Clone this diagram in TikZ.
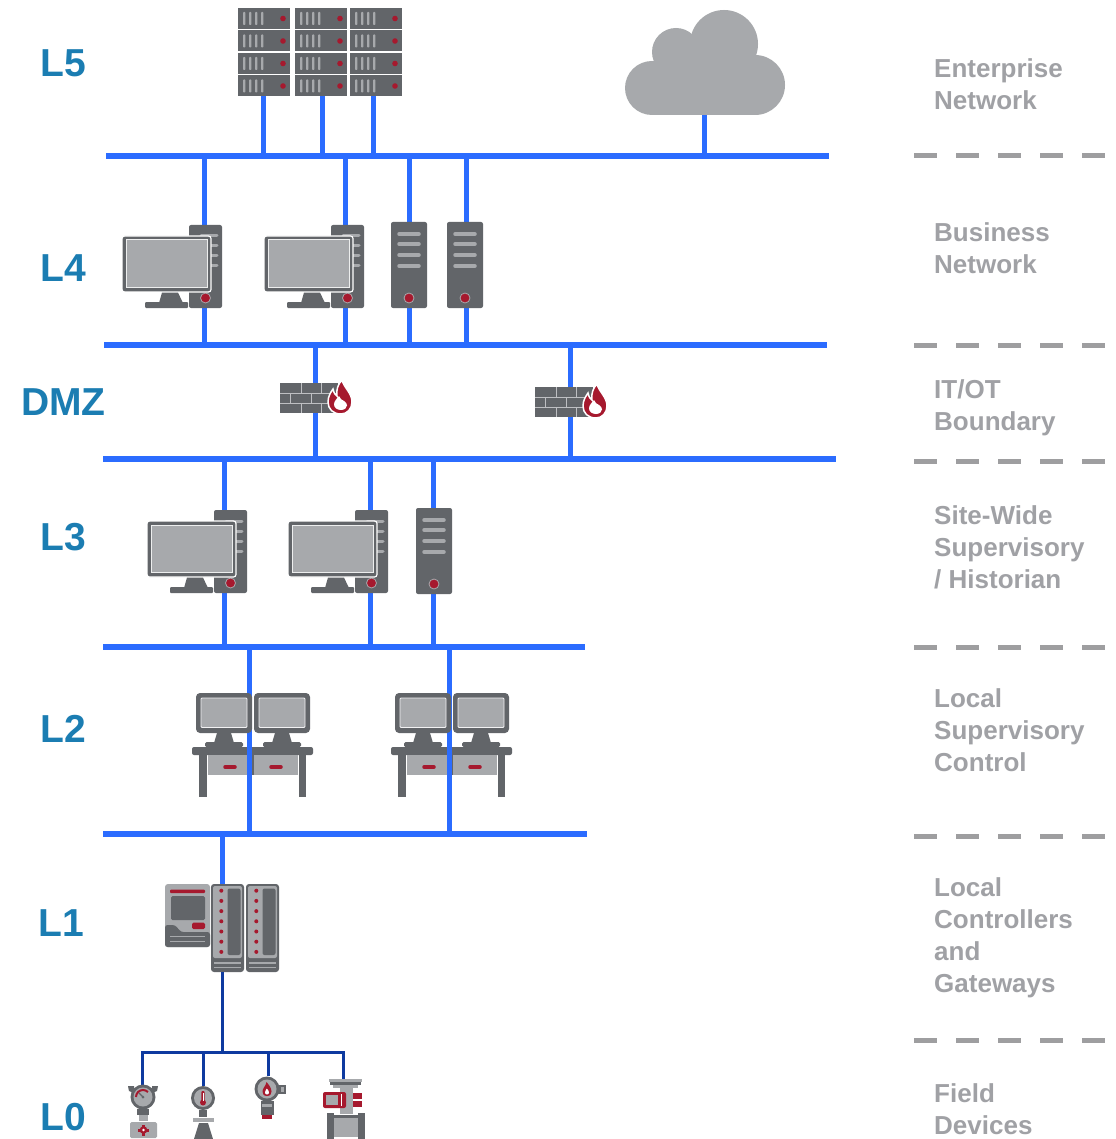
\documentclass[tikz,border=0pt]{standalone}
\usepackage{fontspec}
\setmainfont{Liberation Sans}
\definecolor{devdark}{RGB}{98,101,105}
\definecolor{devlight}{RGB}{167,169,172}
\definecolor{devred}{RGB}{166,25,46}
\definecolor{netblue}{RGB}{43,108,255}
\definecolor{fieldblue}{RGB}{14,58,160}
\definecolor{levelblue}{RGB}{27,125,178}
\definecolor{zonegray}{RGB}{160,161,165}
\definecolor{sepgray}{RGB}{158,158,160}
\definecolor{brickgap}{RGB}{190,191,194}
\tikzset{
  bus/.style={draw=netblue, line width=5.5pt},
  drop/.style={draw=netblue, line width=5pt},
  fieldline/.style={draw=fieldblue, line width=3pt},
  zonesep/.style={draw=sepgray, line width=5pt, dash pattern=on 23pt off 19pt},
  levellabel/.style={font=\bfseries\fontsize{39}{39}\selectfont, text=levelblue, anchor=base, inner sep=0pt},
  zonelabel/.style={font=\bfseries\fontsize{26}{32}\selectfont, text=zonegray, anchor=base west, inner sep=0pt},
  % one rack-mounted server unit
  rackunit/.pic={
    \fill[devdark] (0,0) rectangle (52,21);
    \foreach \u in {5,11,17,23}{\fill[devlight, rounded corners=0.8pt] (\u,4) rectangle ++(2.4,13);}
    \fill[devred] (45,10.5) circle (2.8);
  },
  % desktop computer: tower with monitor in front
  workstation/.pic={
    \fill[devdark, rounded corners=2pt] (0,0) rectangle (33,83);
    \foreach \v in {11,21,31,41}{\draw[devlight, line width=3pt, line cap=round] (12,\v) -- (28,\v);}
    \filldraw[fill=devred, draw=devlight, line width=0.8pt] (16.5,73) circle (5);
    \filldraw[fill=devdark, draw=white, line width=1.2pt, rounded corners=2.5pt] (-67,11) rectangle (22,67);
    \filldraw[fill=devlight, draw=white!80!devlight, line width=1pt] (-63,15) rectangle (18,62.5);
    \fill[devdark] (-27,67.6) -- (-11,67.6) -- (-6,78) -- (-30,78) -- cycle;
    \fill[devdark, rounded corners=1pt] (-44,77) rectangle (-1,83);
  },
  % standalone server tower
  servertower/.pic={
    \fill[devdark, rounded corners=2pt] (0,0) rectangle (36,86);
    \foreach \v in {12,22,33,44}{\draw[devlight, line width=3.5pt, line cap=round] (8,\v) -- (28,\v);}
    \filldraw[fill=devred, draw=devlight, line width=0.8pt] (18,76) circle (5);
  },
  % brick wall with flame
  firewall/.pic={
    \fill[devdark] (0,0) rectangle (58,30);
    \draw[brickgap, line width=1pt] (0,10) -- (58,10) (0,20) -- (58,20)
      (21,0) -- (21,10) (41,0) -- (41,10)
      (10,10) -- (10,20) (31,10) -- (31,20) (51,10) -- (51,20)
      (21,20) -- (21,30) (41,20) -- (41,30);
    \filldraw[fill=devred, draw=white, line width=1.5pt]
      (61,31) .. controls (53,31) and (48,26) .. (48,19)
      .. controls (48,13) and (51,9) .. (53,6)
      .. controls (54,10) and (55,12) .. (57,13)
      .. controls (56,7) and (58,1) .. (62,-3)
      .. controls (64,5) and (72,10) .. (72,19)
      .. controls (72,26) and (67,31) .. (61,31) -- cycle;
    \fill[white] (61,27) .. controls (57,27) and (54,24.5) .. (54,21.5)
      .. controls (54,18) and (57,15.5) .. (59,13)
      .. controls (60,16) and (62,17) .. (64,18)
      .. controls (66,19.5) and (67,21) .. (67,22.5)
      .. controls (67,25) and (64.5,27) .. (61,27) -- cycle;
  },
  % operator desk: table and drawers
  deskbase/.pic={
    \fill[devdark, rounded corners=2pt] (0,54) rectangle (121,62);
    \fill[devdark] (7,61) rectangle (15,104);
    \fill[devdark] (107,61) rectangle (114,104);
    \fill[devlight] (16,62) rectangle (106,82);
    \fill[devdark] (59.5,62) rectangle (62,82);
    \draw[devred, line width=3.5pt, line cap=round] (33,74) -- (43,74) (79,74) -- (89,74);
  },
  % operator desk: two monitors
  deskscreens/.pic={
    \foreach \a in {4,62}{
      \fill[devdark, rounded corners=4pt] (\a,0) rectangle (\a+56,40);
      \filldraw[fill=devlight, draw=white!85!devlight, line width=0.8pt, rounded corners=1pt] (\a+5,5) rectangle (\a+51,34.5);
      \fill[devdark] (\a+21,40) -- (\a+35,40) -- (\a+38,50) -- (\a+18,50) -- cycle;
      \fill[devdark, rounded corners=1.5pt] (\a+9,49) rectangle (\a+47,54);
    }
  },
  % controller with two I/O modules
  controller/.pic={
    \fill[devlight, rounded corners=3pt] (0,0) rectangle (45,63);
    \fill[devred, rounded corners=1pt] (5,5.5) rectangle (40,9);
    \fill[devdark, rounded corners=1.5pt] (6,12) rectangle (40,36);
    \fill[devred, rounded corners=1.5pt] (27,38.5) rectangle (40,45);
    \fill[devdark, rounded corners=2.5pt] (0,41) -- (10,41) -- (16,48) -- (45,48) -- (45,63) -- (0,63) -- cycle;
    \draw[devlight, line width=1.5pt] (5,52.5) -- (40,52.5) (5,57.5) -- (40,57.5);
    \foreach \m in {46,81}{
      \fill[devdark, rounded corners=3pt] (\m,0) rectangle (\m+33,88);
      \fill[devlight, rounded corners=2pt] (\m+2,2) rectangle (\m+31,74);
      \fill[devdark, rounded corners=2pt] (\m+16.5,4.5) rectangle (\m+29.5,71);
      \foreach \k in {0,...,6}{\fill[devred] (\m+10.3,6.7+10.2*\k) circle (2);}
      \draw[devlight, line width=1.2pt] (\m+3,79) -- (\m+30,79) (\m+3,83.5) -- (\m+30,83.5);
    }
  },
  % pressure gauge on a valve body
  gaugedev/.pic={
    \fill[devdark] (-14,1) -- (-8,1) -- (-8,8) -- (-13,6) -- cycle;
    \fill[devdark] (16,1) -- (10,1) -- (10,8) -- (15,6) -- cycle;
    \fill[devdark] (1,12) circle (12.5);
    \fill[devlight] (1,12) circle (9.5);
    \draw[devred, line width=2pt] (-6,12) arc[start angle=180, end angle=315, radius=7];
    \draw[devdark, line width=1.3pt, line cap=round] (1,12) -- (-3,8);
    \fill[devdark] (1,12) circle (1.5);
    \fill[devdark] (-5,24) rectangle (7,29.5);
    \fill[devlight] (-3.5,29.5) rectangle (5.5,36);
    \fill[devlight, rounded corners=1.5pt] (-12,37) rectangle (15,53);
    \fill[devred] (-4,43.5) rectangle (7,46.5);
    \fill[devred] (0,39.5) rectangle (3,50.5);
    \fill[devred] (1.5,45) circle (3.8);
    \fill[white] (1.5,45) circle (1.3);
  },
  % temperature transmitter
  thermodev/.pic={
    \fill[devdark] (0,12) circle (12);
    \fill[devlight] (0,12) circle (9);
    \fill[devred, rounded corners=1pt] (-1.6,5) rectangle (1.6,15);
    \fill[devred] (0,16.5) circle (3);
    \draw[white, line width=0.6pt] (0,7) -- (0,15);
    \fill[devdark] (-4,23.5) rectangle (4,31);
    \fill[devlight] (-10,32) rectangle (11,36);
    \fill[devdark] (-4,37) -- (5,37) -- (10,53) -- (-9,53) -- cycle;
  },
  % flame detector
  flamedev/.pic={
    \fill[devdark] (10,8.5) rectangle (18,18);
    \fill[devlight] (12.5,11) rectangle (16,15.5);
    \fill[devdark] (-1,13) circle (12.5);
    \fill[devlight] (-1,13) circle (9.5);
    \fill[devred] (-1,20) .. controls (-4.5,20) and (-5.5,17.5) .. (-5.5,15.5)
      .. controls (-5.5,12) and (-2,10) .. (-1.5,6)
      .. controls (1,9) and (3.5,12) .. (3.5,15.5)
      .. controls (3.5,17.5) and (2.5,20) .. (-1,20) -- cycle;
    \fill[white] (-1,18.5) .. controls (-2.5,18.5) and (-3,17.3) .. (-3,16.3)
      .. controls (-3,15) and (-1.8,14) .. (-1.2,12.5)
      .. controls (0,14) and (1,15) .. (1,16.3)
      .. controls (1,17.3) and (0.5,18.5) .. (-1,18.5) -- cycle;
    \fill[devdark] (-7.5,25) rectangle (5.5,39);
    \fill[devlight] (-6,28) rectangle (4,30.5);
    \fill[devred] (-6,39) rectangle (4,43);
  },
  % control valve with actuator
  valvedev/.pic={
    \fill[devlight] (-14,0) rectangle (19,3);
    \fill[devdark] (-13,3) rectangle (18,6);
    \fill[devlight] (-10,6) rectangle (15,9);
    \fill[devlight] (-3,9) rectangle (10,35);
    \fill[devred, rounded corners=2pt] (-20,13) rectangle (3,29);
    \fill[devlight] (-17,16) rectangle (-5,26);
    \draw[white, line width=0.8pt] (-1.5,15) -- (-1.5,27);
    \fill[devred] (10,14) rectangle (19,20);
    \fill[devred] (10,22) rectangle (19,28);
    \fill[devlight] (-9,36) rectangle (15,58);
    \fill[devdark] (-9,36) rectangle (15,39);
    \fill[devdark] (-16,34) rectangle (-9,60);
    \fill[devdark] (15,34) rectangle (22,60);
  }
}
\begin{document}
\begin{tikzpicture}[x=1pt, y=-1pt, line join=miter]
\useasboundingbox (0,0) rectangle (1115,1139);
\fill[white] (0,0) rectangle (1115,1139);

% ---- network backbones ----
\coordinate (b5w) at (106,156); \coordinate (b5e) at (829,156);
\coordinate (b4w) at (104,345); \coordinate (b4e) at (827,345);
\coordinate (bdw) at (103,459); \coordinate (bde) at (836,459);
\coordinate (b3w) at (103,647); \coordinate (b3e) at (585,647);
\coordinate (b2w) at (103,834); \coordinate (b2e) at (587,834);

% ---- device attachment points ----
\coordinate (rackA) at (263,96); \coordinate (rackB) at (322,96); \coordinate (rackC) at (373,96);
\coordinate (cloud) at (704,114);
\coordinate (ws4a) at (204,266); \coordinate (ws4b) at (345,266);
\coordinate (srv4a) at (409,265); \coordinate (srv4b) at (466,265);
\coordinate (fwA) at (315,398); \coordinate (fwB) at (570,402);
\coordinate (ws3a) at (224,551); \coordinate (ws3b) at (370,551); \coordinate (srv3) at (433,551);
\coordinate (deskA) at (249,740); \coordinate (deskB) at (449,740);
\coordinate (ctlTop) at (222,884); \coordinate (ctlBot) at (222,972);
\coordinate (hub) at (222,1052);
\coordinate (fd1) at (142,1085); \coordinate (fd2) at (203,1086);
\coordinate (fd3) at (268,1076); \coordinate (fd4) at (343,1079);

\foreach \w/\e in {b5w/b5e,b4w/b4e,bdw/bde,b3w/b3e,b2w/b2e}{\draw[bus] (\w) -- (\e);}

% ---- drops between levels ----
\foreach \n in {rackA,rackB,rackC,cloud}{\draw[drop] (\n) -- (\n |- b5w);}
\foreach \n in {ws4a,ws4b,srv4a,srv4b}{\draw[drop] (\n |- b5w) -- (\n |- b4w);}
\foreach \n in {fwA,fwB}{\draw[drop] (\n |- b4w) -- (\n |- bdw);}
\foreach \n in {ws3a,ws3b,srv3}{\draw[drop] (\n |- bdw) -- (\n |- b3w);}
\draw[drop] (ctlTop |- b2w) -- (ctlBot);

% ---- L5: rack servers and cloud ----
\foreach \cx in {238,295,350}{
  \foreach \ry in {8,30.5,53,75.5}{\pic at (\cx,\ry) {rackunit};}
}
\foreach \c/\r in {{652,88}/27,{676,52}/24,{724,44}/34,{755,85}/30}{\fill[devlight] (\c) circle (\r);}
\fill[devlight] (652,62) rectangle (755,115);

% ---- L4 ----
\pic at (189,225) {workstation};
\pic at (331,225) {workstation};
\pic at (391,222) {servertower};
\pic at (447,222) {servertower};

% ---- DMZ firewalls ----
\pic at (280,383) {firewall};
\pic at (535,387) {firewall};

% ---- L3 ----
\pic at (214,510) {workstation};
\pic at (355,510) {workstation};
\pic at (416,508) {servertower};

% ---- L2 operator desks ----
\pic at (192,693) {deskbase};
\pic at (391,693) {deskbase};
\foreach \n in {deskA,deskB}{\draw[drop] (\n |- b3w) -- (\n |- b2w);}
\pic at (192,693) {deskscreens};
\pic at (391,693) {deskscreens};

% ---- L1 controller ----
\pic at (165,884) {controller};

% ---- L0 field devices ----
\draw[fieldline] (ctlBot) -- (hub);
\draw[fieldline] (fd1) |- (hub) -| (fd4);
\draw[fieldline] (fd2) -- (fd2 |- hub);
\draw[fieldline] (fd3) -- (fd3 |- hub);
\pic at (fd1) {gaugedev};
\pic at (fd2) {thermodev};
\pic at (fd3) {flamedev};
\pic at (fd4) {valvedev};

% ---- level names ----
\node[levellabel] (lvl5) at (63.5,76.5) {L5};
\node[levellabel] (lvl4) at (63.5,281.5) {L4};
\node[levellabel] (lvldmz) at (63.5,415.7) {DMZ};
\node[levellabel] (lvl3) at (63.5,550) {L3};
\node[levellabel] (lvl2) at (63.5,742.5) {L2};
\node[levellabel] (lvl1) at (61.5,936.5) {L1};
\node[levellabel] (lvl0) at (63.5,1130.5) {L0};

% ---- zone separators ----
\foreach \y [count=\i] in {156,345,461,647,836,1040}{
  \coordinate (sep\i w) at (914,\y); \coordinate (sep\i e) at (1105,\y);
  \draw[zonesep] (sep\i w) -- (sep\i e);
}

% ---- zone descriptions ----
\node[zonelabel] (z5a) at (934,77.3) {Enterprise};
\node[zonelabel] (z5b) at (934,109.3) {Network};
\node[zonelabel] (z4a) at (934,242) {Business};
\node[zonelabel] (z4b) at (934,274) {Network};
\node[zonelabel] (zda) at (934,398) {IT/OT};
\node[zonelabel] (zdb) at (934,430) {Boundary};
\node[zonelabel] (z3a) at (934,524.5) {Site-Wide};
\node[zonelabel] (z3b) at (934,556.5) {Supervisory};
\node[zonelabel] (z3c) at (934,588.5) {/ Historian};
\node[zonelabel] (z2a) at (934,707.5) {Local};
\node[zonelabel] (z2b) at (934,739.5) {Supervisory};
\node[zonelabel] (z2c) at (934,771.5) {Control};
\node[zonelabel] (z1a) at (934,896.5) {Local};
\node[zonelabel] (z1b) at (934,928.5) {Controllers};
\node[zonelabel] (z1c) at (934,960.5) {and};
\node[zonelabel] (z1d) at (934,992.5) {Gateways};
\node[zonelabel] (z0a) at (934,1102) {Field};
\node[zonelabel] (z0b) at (934,1134) {Devices};
\end{tikzpicture}
\end{document}
